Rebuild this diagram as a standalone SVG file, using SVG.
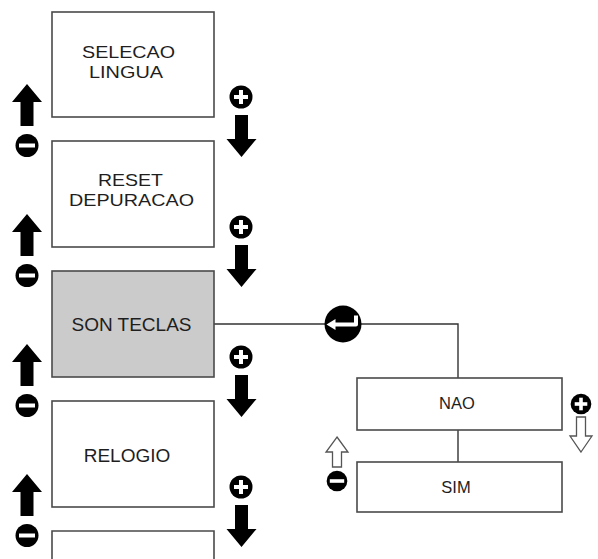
<svg xmlns="http://www.w3.org/2000/svg" width="598" height="559" viewBox="0 0 598 559">
<defs>
<style>
.box{fill:#fff;stroke:#4a4a4a;stroke-width:1.6}
.sel{fill:#cbcbcb}
.t{font-family:"Liberation Sans",Arial,sans-serif;font-size:19px;fill:#1e1e1e;text-anchor:middle}
.t2{font-family:"Liberation Sans",Arial,sans-serif;font-size:17px;fill:#1e1e1e;text-anchor:middle}
.ts{font-family:"Liberation Sans",Arial,sans-serif;font-size:16.5px;fill:#1e1e1e;text-anchor:middle}
.conn{fill:none;stroke:#333;stroke-width:1.4}
.blk{fill:#000}
.wbar{stroke:#fff;stroke-width:4;stroke-linecap:butt}
.hol{fill:#fff;stroke:#555;stroke-width:1.3;stroke-linejoin:miter}
</style>
<g id="up">
<path class="blk" d="M0 0 L15 18 L6.5 18 L6.5 42 L-6.5 42 L-6.5 18 L-15 18 Z"/>
</g>
<g id="down">
<path class="blk" d="M0 0 L15 -18 L6.5 -18 L6.5 -42 L-6.5 -42 L-6.5 -18 L-15 -18 Z"/>
</g>
<g id="minus">
<circle class="blk" r="11.5"/>
<line class="wbar" x1="-8" y1="0" x2="8" y2="0"/>
</g>
<g id="plus">
<circle class="blk" r="11.5"/>
<line class="wbar" x1="-7" y1="0" x2="7" y2="0"/>
<line class="wbar" x1="0" y1="-7" x2="0" y2="7"/>
</g>
</defs>
<rect width="598" height="559" fill="#fff"/>

<g id="connectors">
<path class="conn" d="M214 324 H458 V378"/>
<path class="conn" d="M458 430 V462"/>
</g>

<g id="node-selecao-lingua">
<rect class="box" x="52" y="12" width="162" height="105"/>
<text class="t2" x="128.5" y="58" textLength="93" lengthAdjust="spacingAndGlyphs">SELECAO</text>
<text class="t2" x="126" y="77.5" textLength="74" lengthAdjust="spacingAndGlyphs">LINGUA</text>
</g>
<g id="node-reset-depuracao">
<rect class="box" x="52" y="141" width="162" height="106"/>
<text class="t2" x="130.5" y="186" textLength="65" lengthAdjust="spacingAndGlyphs">RESET</text>
<text class="t2" x="131.5" y="205.5" textLength="125" lengthAdjust="spacingAndGlyphs">DEPURACAO</text>
</g>
<g id="node-son-teclas">
<rect class="box sel" x="52" y="271" width="162" height="106"/>
<text class="t" x="131.5" y="331">SON TECLAS</text>
</g>
<g id="node-relogio">
<rect class="box" x="52" y="401" width="162" height="106"/>
<text class="t" x="127" y="462">RELOGIO</text>
</g>
<g id="node-next">
<path class="box" d="M52 562 V531 H214 V562"/>
</g>
<g id="node-nao">
<rect class="box" x="357" y="378" width="205" height="52"/>
<text class="ts" x="457" y="409">NAO</text>
</g>
<g id="node-sim">
<rect class="box" x="357" y="462" width="205" height="50"/>
<text class="ts" x="456" y="493">SIM</text>
</g>

<g id="nav-icons">
<use href="#up" x="27" y="84"/>
<use href="#minus" x="27" y="145.5"/>
<use href="#plus" x="241" y="97"/>
<use href="#down" x="241.5" y="157"/>

<use href="#up" x="27" y="214"/>
<use href="#minus" x="27" y="275.5"/>
<use href="#plus" x="241" y="227"/>
<use href="#down" x="241.5" y="287"/>

<use href="#up" x="27" y="344"/>
<use href="#minus" x="27" y="405.5"/>
<use href="#plus" x="241" y="357"/>
<use href="#down" x="241.5" y="417"/>

<use href="#up" x="27" y="474"/>
<use href="#minus" x="27" y="535.5"/>
<use href="#plus" x="241" y="487"/>
<use href="#down" x="241.5" y="547"/>
</g>

<g id="enter-icon">
<circle class="blk" cx="343" cy="324" r="18.5"/>
<path d="M356 315.5 V324.5 H334" fill="none" stroke="#fff" stroke-width="4" stroke-linejoin="round"/>
<path d="M326.5 324.5 L335.5 319 L335.5 330 Z" fill="#fff"/>
</g>

<g id="choice-icons">
<use href="#plus" x="581" y="404" transform="translate(581 404) scale(0.9) translate(-581 -404)"/>
<path class="hol" d="M581 452 L592 436 L585.5 436 L585.5 417 L576.5 417 L576.5 436 L570 436 Z"/>
<path class="hol" d="M337 437 L348 452 L341.5 452 L341.5 467 L332.5 467 L332.5 452 L326 452 Z"/>
<use href="#minus" x="337" y="481" transform="translate(337 481) scale(0.9) translate(-337 -481)"/>
</g>
</svg>
